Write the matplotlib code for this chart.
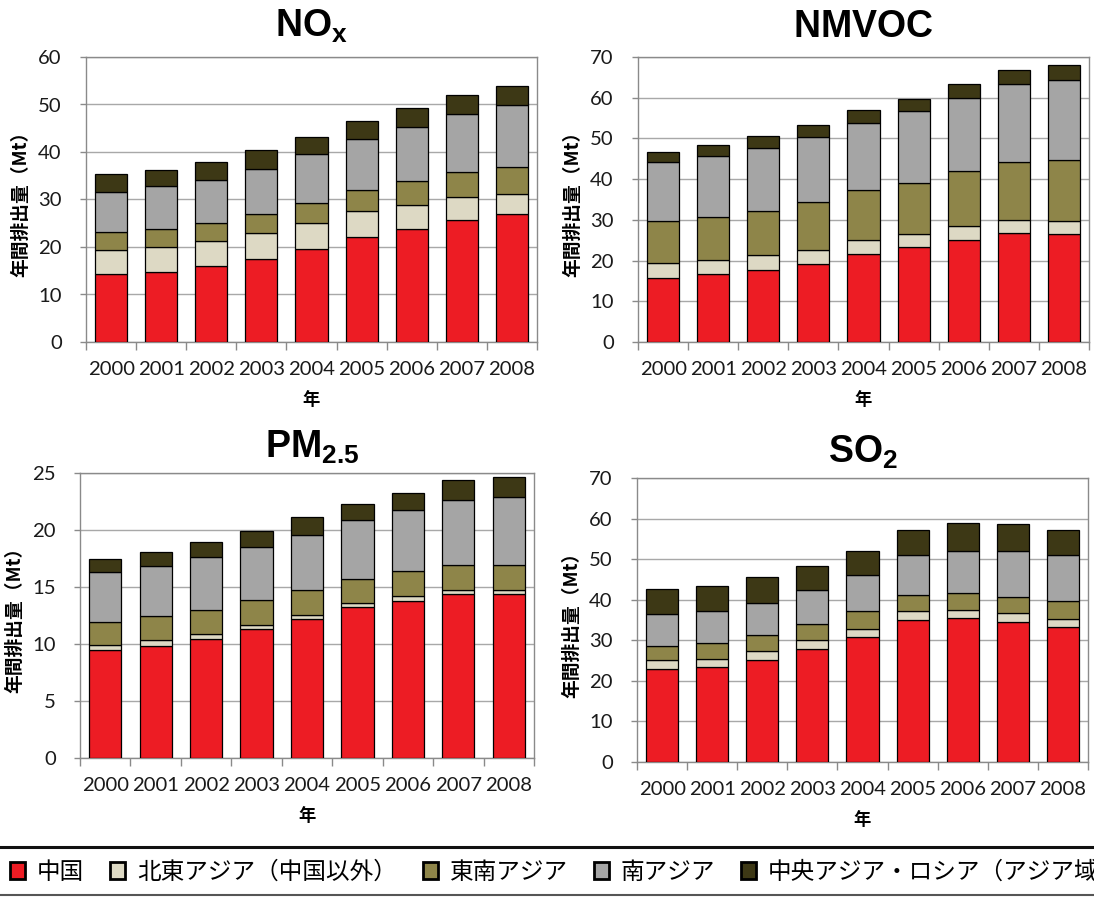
import matplotlib
matplotlib.use("Agg")
import matplotlib.pyplot as plt
from matplotlib.patches import Patch
from matplotlib.lines import Line2D
from matplotlib.ticker import MultipleLocator, FixedLocator, NullFormatter

# ---- data -------------------------------------------------------------
YEARS = ["2000", "2001", "2002", "2003", "2004", "2005", "2006", "2007", "2008"]

REGIONS = ["中国", "北東アジア（中国以外）", "東南アジア", "南アジア",
           "中央アジア・ロシア（アジア域）"]
REGION_COLORS = ["#ED1C24", "#DDD9C4", "#8E8549", "#A5A5A5", "#3D3815"]

# NOx emissions by region (Mt / year)
NOX_CHINA = [14.3, 14.8, 15.9, 17.5, 19.6, 22.1, 23.8, 25.6, 26.9]
NOX_NE_ASIA = [5.1, 5.3, 5.3, 5.4, 5.4, 5.4, 5.1, 4.9, 4.3]
NOX_SE_ASIA = [3.7, 3.7, 3.9, 4.0, 4.3, 4.4, 4.9, 5.3, 5.6]
NOX_S_ASIA = [8.5, 9.0, 9.1, 9.6, 10.2, 10.8, 11.4, 12.3, 13.1]
NOX_C_ASIA_RUSSIA = [3.8, 3.5, 3.7, 4.0, 3.7, 3.8, 4.0, 4.0, 4.0]

# NMVOC emissions by region (Mt / year)
NMVOC_CHINA = [15.6, 16.7, 17.8, 19.2, 21.6, 23.3, 25.1, 26.8, 26.5]
NMVOC_NE_ASIA = [3.8, 3.5, 3.5, 3.5, 3.5, 3.2, 3.3, 3.2, 3.1]
NMVOC_SE_ASIA = [10.2, 10.6, 10.8, 11.6, 12.2, 12.6, 13.5, 14.3, 15.0]
NMVOC_S_ASIA = [14.6, 14.8, 15.5, 16.0, 16.5, 17.7, 18.1, 19.0, 19.7]
NMVOC_C_ASIA_RUSSIA = [2.5, 2.8, 2.9, 2.9, 3.3, 3.0, 3.4, 3.5, 3.7]

# PM2.5 emissions by region (Mt / year)
PM25_CHINA = [9.44, 9.85, 10.41, 11.29, 12.16, 13.22, 13.80, 14.39, 14.39]
PM25_NE_ASIA = [0.50, 0.50, 0.50, 0.38, 0.41, 0.38, 0.41, 0.35, 0.38]
PM25_SE_ASIA = [2.02, 2.11, 2.10, 2.22, 2.20, 2.13, 2.19, 2.22, 2.19]
PM25_S_ASIA = [4.33, 4.41, 4.62, 4.65, 4.79, 5.12, 5.33, 5.64, 5.91]
PM25_C_ASIA_RUSSIA = [1.20, 1.17, 1.32, 1.40, 1.61, 1.46, 1.54, 1.76, 1.75]

# SO2 emissions by region (Mt / year)
SO2_CHINA = [23.0, 23.4, 25.2, 27.9, 30.9, 35.0, 35.4, 34.5, 33.3]
SO2_NE_ASIA = [2.2, 2.1, 2.2, 2.2, 2.0, 2.2, 2.0, 2.2, 1.9]
SO2_SE_ASIA = [3.5, 3.8, 3.8, 3.8, 4.2, 3.9, 4.3, 3.9, 4.4]
SO2_S_ASIA = [7.9, 7.8, 8.1, 8.4, 9.0, 9.9, 10.4, 11.5, 11.4]
SO2_C_ASIA_RUSSIA = [6.0, 6.3, 6.3, 6.1, 6.0, 6.1, 6.8, 6.5, 6.1]

# ---- style ------------------------------------------------------------
plt.rcParams["mathtext.fontset"] = "custom"
plt.rcParams["mathtext.bf"] = "Liberation Sans:bold"
plt.rcParams["mathtext.rm"] = "Liberation Sans"
plt.rcParams["mathtext.it"] = "Liberation Sans:italic"

CJK = ["Noto Sans CJK JP", "DejaVu Sans"]
TICK_FONT = "Lato"
SPINE_COLOR = "#8A8A8A"
GRID_COLOR = "#A8A8A8"

W, H = 1094, 897
fig = plt.figure(figsize=(W / 100, H / 100), dpi=100)


def px_box(left, right, top, bottom):
    return [left / W, 1 - bottom / H, (right - left) / W, (bottom - top) / H]


panels = [
    (r"$\mathbf{NO_x}$", 312, 37, (86, 537, 57, 342), 60, 10,
     [NOX_CHINA, NOX_NE_ASIA, NOX_SE_ASIA, NOX_S_ASIA, NOX_C_ASIA_RUSSIA]),
    (r"$\mathbf{NMVOC}$", 863, 37, (638, 1089, 57, 342), 70, 10,
     [NMVOC_CHINA, NMVOC_NE_ASIA, NMVOC_SE_ASIA, NMVOC_S_ASIA, NMVOC_C_ASIA_RUSSIA]),
    (r"$\mathbf{PM_{2.5}}$", 312, 458, (80, 534, 473, 758), 25, 5,
     [PM25_CHINA, PM25_NE_ASIA, PM25_SE_ASIA, PM25_S_ASIA, PM25_C_ASIA_RUSSIA]),
    (r"$\mathbf{SO_2}$", 863, 463, (637, 1088, 478, 762), 70, 10,
     [SO2_CHINA, SO2_NE_ASIA, SO2_SE_ASIA, SO2_S_ASIA, SO2_C_ASIA_RUSSIA]),
]

x = list(range(len(YEARS)))

for title, tx, ty, box, ymax, ystep, series in panels:
    ax = fig.add_axes(px_box(*box))
    bottom = [0.0] * len(YEARS)
    for values, color in zip(series, REGION_COLORS):
        ax.bar(x, values, width=0.64, bottom=bottom, color=color,
               edgecolor="black", linewidth=0.9, zorder=3)
        bottom = [b + v for b, v in zip(bottom, values)]

    ax.set_xlim(-0.5, len(YEARS) - 0.5)
    ax.set_ylim(0, ymax)
    ax.yaxis.set_major_locator(MultipleLocator(ystep))
    ax.grid(axis="y", color=GRID_COLOR, linewidth=1.0, zorder=0)
    ax.set_axisbelow(True)

    ax.set_xticks(x)
    ax.set_xticklabels(YEARS)
    ax.xaxis.set_minor_locator(FixedLocator([i - 0.5 for i in range(len(YEARS) + 1)]))
    ax.xaxis.set_minor_formatter(NullFormatter())
    ax.tick_params(axis="x", which="major", length=0, pad=14)
    ax.tick_params(axis="x", which="minor", length=6, width=1.0,
                   color=SPINE_COLOR, direction="out")
    ax.tick_params(axis="y", which="major", length=4.5, width=1.0,
                   color=SPINE_COLOR, direction="out", pad=13)
    for lab in ax.get_xticklabels() + ax.get_yticklabels():
        lab.set_fontfamily(TICK_FONT)
        lab.set_fontsize(14.6)
        lab.set_color("#1A1A1A")

    for sp in ax.spines.values():
        sp.set_color(SPINE_COLOR)
        sp.set_linewidth(1.0)

    ax.set_ylabel("年間排出量（Mt）", family=CJK, fontsize=13.5, fontweight="bold")
    ax.yaxis.set_label_coords(-0.144, 0.5)
    ax.yaxis.label.set_va("center")
    ax.set_xlabel("年", family=CJK, fontsize=12.5, fontweight="bold")
    ax.xaxis.set_label_coords(0.5, -58 / (box[3] - box[2]))
    ax.xaxis.label.set_va("center")

    fig.text(tx / W, 1 - ty / H, title, ha="center", va="baseline", fontsize=27)

# ---- legend strip at the bottom ---------------------------------------
fig.add_artist(Line2D([0, 1], [1 - 846.5 / H, 1 - 846.5 / H],
                      transform=fig.transFigure, color="#111111", linewidth=2.2))
fig.add_artist(Line2D([0, 1], [1 - 895 / H, 1 - 895 / H],
                      transform=fig.transFigure, color="#555555", linewidth=1.5))

handles = [Patch(facecolor=c, edgecolor="black", linewidth=2.0) for c in REGION_COLORS]
fig.legend(handles, REGIONS, loc="center left",
           bbox_to_anchor=(10 / W, 1 - 872 / H), ncol=5, frameon=False,
           prop={"family": CJK, "size": 17}, borderpad=0, borderaxespad=0,
           handlelength=0.64, handleheight=0.75, handletextpad=0.5,
           columnspacing=1.1)

fig.savefig("out.png", dpi=100)
